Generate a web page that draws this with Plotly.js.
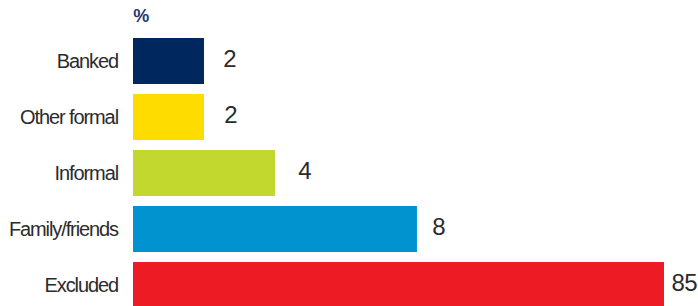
<!DOCTYPE html>
<html>
<head>
<meta charset="utf-8">
<script src="https://cdn.plot.ly/plotly-3.0.1.min.js"></script>
<style>
html,body{margin:0;padding:0;background:#fff;}
#chart{width:698px;height:306px;}
#chart .ytick text{letter-spacing:-1.1px;}
#chart .annotation-text{letter-spacing:-0.5px;}
</style>
</head>
<body>
<div id="chart"></div>
<script>
// Data
const categories = ["Banked", "Other formal", "Informal", "Family/friends", "Excluded"];
const values = [2, 2, 4, 8, 85];
const unitLabel = "%";

// Styling
const barColors = ["#00275E", "#FFDC00", "#C2D82F", "#0093D0", "#ED1C24"];
const xMax = 14.96;               // axis is cut off; largest bar runs past the edge
const labelXShift = [26, 26.5, 29.5, 21.5, 20];
const labelFont = {family: "Liberation Sans, Arial, sans-serif", size: 20, color: "#2b2b2b"};
const valueFont = {family: "Liberation Sans, Arial, sans-serif", size: 24, color: "#2b2b2b"};

const trace = {
  type: "bar",
  orientation: "h",
  x: values,
  y: categories,
  marker: {color: barColors, line: {width: 0}},
  hoverinfo: "none"
};

const annotations = values.map((v, i) => ({
  x: Math.min(v, xMax),
  y: categories[i],
  xref: "x", yref: "y",
  text: String(v),
  showarrow: false,
  xanchor: "center",
  yanchor: "middle",
  xshift: labelXShift[i],
  yshift: 3,
  font: valueFont
}));

annotations.push({
  x: 0, y: 1, xref: "paper", yref: "paper",
  text: "<b>" + unitLabel + "</b>",
  showarrow: false,
  xanchor: "left", yanchor: "bottom",
  xshift: -2, yshift: 5,
  font: {family: "Liberation Sans, Arial, sans-serif", size: 18, color: "#1F3A6E"}
});

const layout = {
  width: 698, height: 306,
  margin: {l: 133, r: 34, t: 33, b: 0, pad: 0},
  paper_bgcolor: "#ffffff",
  plot_bgcolor: "#ffffff",
  showlegend: false,
  bargap: 0.18,
  xaxis: {
    range: [0, xMax],
    visible: false,
    showgrid: false,
    zeroline: false,
    fixedrange: true
  },
  yaxis: {
    type: "category",
    range: [4.375, -0.5],
    showgrid: false,
    zeroline: false,
    showline: false,
    ticks: "",
    ticklabelstandoff: 14,
    tickfont: labelFont,
    fixedrange: true
  },
  annotations: annotations
};

Plotly.newPlot("chart", [trace], layout, {displayModeBar: false, staticPlot: true});
</script>
</body>
</html>
